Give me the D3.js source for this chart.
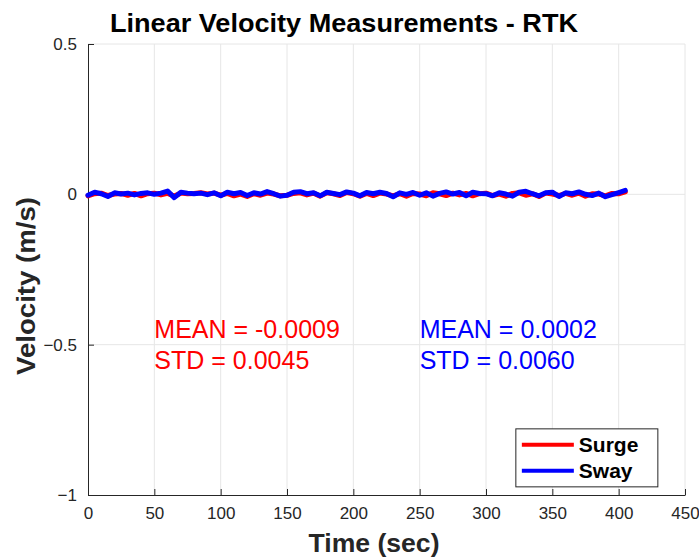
<!DOCTYPE html>
<html>
<head>
<meta charset="utf-8">
<script src="https://cdn.jsdelivr.net/npm/d3@7"></script>
<style>
  body { margin: 0; background: #fff; }
  text { font-family: "Liberation Sans", Arial, sans-serif; }
</style>
</head>
<body>
<svg id="chart"></svg>
<script>
// time stamps every 5 s, 0..405
const times = d3.range(0, 406, 5);

const surge = [
  -0.005, 0.002, 0.004, -0.004, 0.001, 0.003, -0.003, 0.003, -0.005, 0.002,
  0.004, -0.002, 0.003, -0.006, 0.004, 0.002, 0.003, 0.005, 0.001, 0.004,
  -0.003, 0.003, -0.005, 0.001, -0.007, 0.002, -0.003, 0.004, 0.001, -0.005,
  -0.003, 0.003, 0.005, -0.002, 0.004, -0.006, 0.005, 0.002, -0.004, 0.006,
  0.002, -0.006, 0.003, -0.004, 0.004, 0.001, -0.005, 0.002, -0.006, 0.003,
  0.001, -0.005, 0.005, 0.002, -0.004, 0.004, -0.002, 0.003, -0.005, 0.002,
  0.004, -0.004, 0.001, -0.006, 0.003, 0.005, -0.003, 0.002, -0.007, 0.004,
  0.001, -0.004, 0.003, -0.003, 0.004, -0.006, 0.002, 0.001, -0.005, 0.003,
  0.002, 0.008
];

const sway = [
  -0.003, 0.007, 0.002, -0.007, 0.005, 0.001, 0.004, -0.002, 0.003, 0.005,
  0.000, 0.004, 0.011, -0.011, 0.007, 0.004, 0.002, 0.004, -0.001, 0.005,
  -0.005, 0.007, 0.002, 0.006, -0.004, 0.005, 0.001, 0.009, 0.002, -0.006,
  -0.003, 0.007, 0.009, 0.002, 0.005, -0.005, 0.007, 0.003, -0.001, 0.008,
  0.004, -0.005, 0.006, 0.002, 0.007, 0.003, -0.008, 0.005, 0.000, 0.006,
  -0.003, 0.005, -0.006, 0.003, 0.008, 0.001, 0.006, -0.005, 0.007, 0.003,
  0.002, -0.005, 0.005, 0.001, -0.006, 0.007, 0.010, 0.002, -0.005, 0.005,
  0.007, -0.007, 0.005, 0.002, 0.008, 0.000, -0.004, 0.004, -0.008, -0.001,
  0.006, 0.013
];

const xTicks = [0, 50, 100, 150, 200, 250, 300, 350, 400, 450];
const yTicks = [-1, -0.5, 0, 0.5];
const seriesNames = ['Surge', 'Sway'];
const seriesColors = ['#ff0000', '#0000ff'];
const stats = [
  { mean: '-0.0009', std: '0.0045' },
  { mean: '0.0002', std: '0.0060' }
];

const svgWidth = 699;
const svgHeight = 560;
const margin = { top: 44, right: 14, bottom: 65, left: 88 };
const chartWidth = svgWidth - margin.left - margin.right;
const chartHeight = svgHeight - margin.top - margin.bottom;

const svg = d3.select('#chart')
  .attr('width', svgWidth)
  .attr('height', svgHeight);

const g = svg.append('g')
  .attr('transform', `translate(${margin.left}, ${margin.top})`);

const xScale = d3.scaleLinear().domain([0, 450]).range([0, chartWidth]);
const yScale = d3.scaleLinear().domain([-1, 0.5]).range([chartHeight, 0]);

// grid
g.append('g').selectAll('line')
  .data(xTicks.slice(1))
  .enter().append('line')
  .attr('x1', d => xScale(d)).attr('x2', d => xScale(d))
  .attr('y1', 0).attr('y2', chartHeight)
  .attr('stroke', '#e6e6e6').attr('stroke-width', 1);

g.append('g').selectAll('line')
  .data(yTicks.slice(1))
  .enter().append('line')
  .attr('x1', 0).attr('x2', chartWidth)
  .attr('y1', d => yScale(d)).attr('y2', d => yScale(d))
  .attr('stroke', '#e6e6e6').attr('stroke-width', 1);

// axes
const xAxis = d3.axisBottom(xScale).tickValues(xTicks).tickFormat(d3.format('d'))
  .tickSizeInner(-6).tickSizeOuter(0).tickPadding(12);
const yAxis = d3.axisLeft(yScale).tickValues(yTicks).tickFormat(d => d === 0 ? '0' : d3.format('')(d))
  .tickSizeInner(-6).tickSizeOuter(0).tickPadding(11);

const xg = g.append('g')
  .attr('transform', `translate(0, ${chartHeight})`)
  .call(xAxis);
const yg = g.append('g').call(yAxis);

[xg, yg].forEach(ax => {
  ax.select('.domain').attr('stroke', '#262626');
  ax.selectAll('.tick line').attr('stroke', '#262626');
  ax.selectAll('.tick text')
    .attr('fill', '#262626')
    .style('font-size', '17px')
    .style('font-family', '"Liberation Sans", Arial, sans-serif');
});

// lines
const line = d3.line()
  .x((d, i) => xScale(times[i]))
  .y(d => yScale(d));

[surge, sway].forEach((values, i) => {
  g.append('path')
    .datum(values)
    .attr('fill', 'none')
    .attr('stroke', seriesColors[i])
    .attr('stroke-width', 5)
    .attr('stroke-linejoin', 'round')
    .attr('stroke-linecap', 'round')
    .attr('d', line);
});

// stats annotations
const statX = [50, 250];
stats.forEach((s, i) => {
  const t = g.append('text')
    .attr('x', xScale(statX[i]))
    .attr('y', 338 - margin.top)
    .attr('fill', seriesColors[i])
    .style('font-size', '25px');
  t.append('tspan').text(`MEAN = ${s.mean}`);
  t.append('tspan').attr('x', xScale(statX[i])).attr('dy', 31).text(`STD = ${s.std}`);
});

// legend
const legend = g.append('g').attr('transform', `translate(${xScale(322.5)}, ${yScale(-0.78)})`);
legend.append('rect')
  .attr('width', 142).attr('height', 58)
  .attr('fill', '#fff').attr('stroke', '#262626').attr('stroke-width', 1);
seriesNames.forEach((name, i) => {
  const y = 16 + i * 26;
  legend.append('line')
    .attr('x1', 6).attr('x2', 58).attr('y1', y).attr('y2', y)
    .attr('stroke', seriesColors[i]).attr('stroke-width', 4);
  legend.append('text')
    .attr('x', 63).attr('y', y + 7)
    .style('font-size', '21px').style('font-weight', 'bold')
    .attr('fill', '#000')
    .text(name);
});

// title and axis labels
svg.append('text')
  .attr('x', 344)
  .attr('y', 32)
  .attr('text-anchor', 'middle')
  .attr('textLength', 468).attr('lengthAdjust', 'spacingAndGlyphs')
  .style('font-size', '25px').style('font-weight', 'bold')
  .text('Linear Velocity Measurements - RTK');

svg.append('text')
  .attr('x', 374)
  .attr('y', 552)
  .attr('text-anchor', 'middle')
  .attr('textLength', 131).attr('lengthAdjust', 'spacingAndGlyphs')
  .attr('fill', '#262626')
  .style('font-size', '26px').style('font-weight', 'bold')
  .text('Time (sec)');

svg.append('text')
  .attr('transform', `translate(35, 286) rotate(-90)`)
  .attr('text-anchor', 'middle')
  .attr('textLength', 178).attr('lengthAdjust', 'spacingAndGlyphs')
  .attr('fill', '#262626')
  .style('font-size', '26px').style('font-weight', 'bold')
  .text('Velocity (m/s)');
</script>
</body>
</html>
